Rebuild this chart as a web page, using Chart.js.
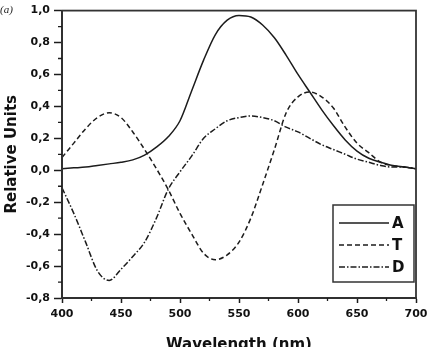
<!DOCTYPE html>
<html>
<head>
  <meta charset="utf-8">
  <title>Relative Units vs Wavelength</title>
  <script src="https://cdn.jsdelivr.net/npm/chart.js"></script>
  <style>
    html, body { margin: 0; padding: 0; background: #fff; overflow: hidden; }
    .wrap { position: relative; width: 438px; height: 354px; }
    .tag { position: absolute; left: 0px; top: 3px; font: italic 11px "Liberation Serif", serif; color: #222; }
  </style>
</head>
<body>
  <div class="wrap">
    <canvas id="chart"></canvas>
    <span class="tag">(a)</span>
  </div>

  <script>
    const wavelengths = [400, 410, 420, 430, 440, 450, 460, 470, 480, 490, 500, 510, 520, 530, 540, 550,
                         560, 570, 580, 590, 600, 610, 620, 630, 640, 650, 660, 670, 680, 690, 700];
    const seriesA = [0.01, 0.015, 0.02, 0.03, 0.04, 0.05, 0.065, 0.095, 0.145, 0.21, 0.31, 0.50, 0.69, 0.85, 0.94, 0.97,
                     0.96, 0.91, 0.83, 0.72, 0.60, 0.49, 0.38, 0.28, 0.19, 0.12, 0.075, 0.05, 0.03, 0.02, 0.01];
    const seriesT = [0.08, 0.17, 0.26, 0.33, 0.36, 0.33, 0.24, 0.13, 0.01, -0.12, -0.27, -0.40, -0.52, -0.56, -0.53, -0.45,
                     -0.30, -0.09, 0.13, 0.36, 0.46, 0.49, 0.46, 0.39, 0.27, 0.17, 0.11, 0.05, 0.03, 0.02, 0.01];
    const seriesD = [-0.11, -0.27, -0.45, -0.63, -0.69, -0.62, -0.54, -0.45, -0.30, -0.12, -0.01, 0.09, 0.20, 0.26, 0.31, 0.33,
                     0.34, 0.33, 0.31, 0.27, 0.24, 0.20, 0.16, 0.13, 0.10, 0.07, 0.05, 0.03, 0.02, 0.02, 0.01];
    const seriesNames = ['A', 'T', 'D'];
    const xTicks = [400, 450, 500, 550, 600, 650, 700];
    const xMinor = [425, 475, 525, 575, 625, 675];
    const yTicks = [-0.8, -0.6, -0.4, -0.2, 0.0, 0.2, 0.4, 0.6, 0.8, 1.0];
    const yMinor = [-0.7, -0.5, -0.3, -0.1, 0.1, 0.3, 0.5, 0.7, 0.9];

    const INK = '#1c1c1c';
    const tickFont = { family: 'DejaVu Sans', size: 11, weight: 'bold' };
    const titleFont = { family: 'DejaVu Sans', size: 15, weight: 'bold' };

    const pts = ys => wavelengths.map((x, i) => ({ x, y: ys[i] }));
    const line = (label, ys, dash) => ({
      label,
      data: pts(ys),
      borderColor: INK,
      borderWidth: 1.5,
      borderDash: dash,
      pointRadius: 0,
      fill: false,
      cubicInterpolationMode: 'monotone'
    });

    // frame, minor ticks and the boxed legend
    const extras = {
      id: 'extras',
      afterDraw(chart) {
        const { ctx, chartArea: a, scales: { x, y } } = chart;
        ctx.save();
        ctx.strokeStyle = '#333';
        ctx.lineWidth = 1.8;
        ctx.strokeRect(a.left, a.top, a.right - a.left, a.bottom - a.top);

        ctx.strokeStyle = INK;
        ctx.lineWidth = 1.3;
        ctx.beginPath();
        xMinor.forEach(v => {
          const px = x.getPixelForValue(v);
          ctx.moveTo(px, a.bottom);
          ctx.lineTo(px, a.bottom + 3);
        });
        yMinor.forEach(v => {
          const py = y.getPixelForValue(v);
          ctx.moveTo(a.left, py);
          ctx.lineTo(a.left - 4, py);
        });
        ctx.stroke();

        // legend box
        const bx = a.right - 83, by = a.bottom - 93, bw = 81, bh = 77;
        ctx.lineWidth = 1.5;
        ctx.strokeStyle = '#333';
        ctx.fillStyle = '#fff';
        ctx.fillRect(bx, by, bw, bh);
        ctx.strokeRect(bx, by, bw, bh);
        ctx.font = 'bold 15px "DejaVu Sans"';
        ctx.textBaseline = 'middle';
        chart.data.datasets.forEach((ds, i) => {
          const ly = by + 18 + i * 22;
          ctx.strokeStyle = ds.borderColor;
          ctx.lineWidth = ds.borderWidth;
          ctx.setLineDash(ds.borderDash || []);
          ctx.beginPath();
          ctx.moveTo(bx + 6, ly);
          ctx.lineTo(bx + 56, ly);
          ctx.stroke();
          ctx.setLineDash([]);
          ctx.fillStyle = '#111';
          ctx.fillText(seriesNames[i], bx + 59, ly + 1);
        });
        ctx.restore();
      }
    };

    new Chart(document.getElementById('chart'), {
      type: 'line',
      data: {
        datasets: [
          line(seriesNames[0], seriesA, []),
          line(seriesNames[1], seriesT, [5, 3]),
          line(seriesNames[2], seriesD, [6, 2, 1.5, 2])
        ]
      },
      options: {
        responsive: true,
        maintainAspectRatio: false,
        animation: false,
        layout: { padding: { top: 9, right: 22, left: 0, bottom: 0 } },
        plugins: { legend: { display: false }, tooltip: { enabled: false } },
        scales: {
          x: {
            type: 'linear',
            min: 400,
            max: 700,
            afterFit: s => { s.height = 56; },
            afterBuildTicks: s => { s.ticks = xTicks.map(value => ({ value })); },
            ticks: { font: tickFont, color: '#111', padding: 5, maxRotation: 0, autoSkip: false },
            grid: { drawOnChartArea: false, tickLength: 5, tickWidth: 1.5, tickColor: INK },
            border: { color: INK, width: 2 },
            title: { display: true, text: 'Wavelength (nm)', font: titleFont, color: '#111', padding: 0 }
          },
          y: {
            min: -0.8,
            max: 1.0,
            afterFit: s => { s.width = 62; },
            afterBuildTicks: s => { s.ticks = yTicks.map(value => ({ value })); },
            ticks: {
              font: tickFont,
              color: '#111',
              padding: 4,
              autoSkip: false,
              callback: v => v.toFixed(1).replace('.', ',')
            },
            grid: { drawOnChartArea: false, tickLength: 8, tickWidth: 1.5, tickColor: INK },
            border: { color: INK, width: 2 },
            title: { display: true, text: 'Relative Units', font: titleFont, color: '#111', padding: { top: 3, bottom: 0 } }
          }
        }
      },
      plugins: [extras]
    });
  </script>
</body>
</html>
